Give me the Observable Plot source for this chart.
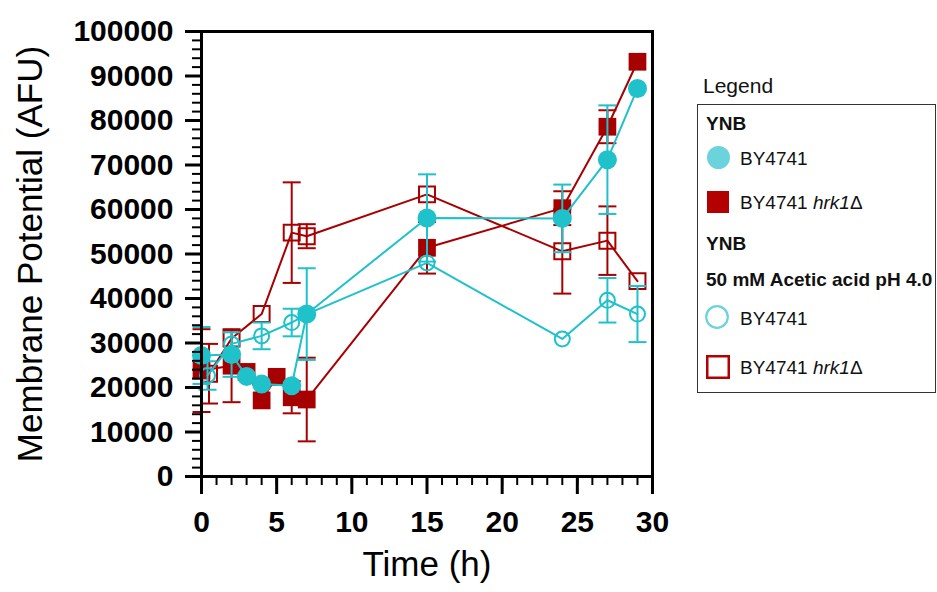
<!DOCTYPE html>
<html><head><meta charset="utf-8">
<script src="https://cdn.jsdelivr.net/npm/d3@7"></script>
<script src="https://cdn.jsdelivr.net/npm/@observablehq/plot@0.6"></script>
<style>
body{margin:0;background:#fff;font-family:"Liberation Sans",Arial,sans-serif;}
#wrap{position:relative;width:937px;height:592px;overflow:hidden;background:#fff;}
#wrap svg{position:absolute;left:0;top:0;}
.lg{position:absolute;white-space:nowrap;transform:translateY(-50%);color:#111;line-height:1;}
.lgbox{position:absolute;border:1.5px solid #333;box-sizing:border-box;}
.lgsym{position:absolute;overflow:visible;}
</style></head>
<body><div id="wrap"></div>
<script>
// ---------- data ----------
const xTicks = [0, 5, 10, 15, 20, 25, 30];
const xMinorTicks = d3.range(0, 31, 1);
const yTicks = [0, 10000, 20000, 30000, 40000, 50000, 60000, 70000, 80000, 90000, 100000];
const yMinorTicks = d3.range(0, 100001, 2000);

// YNB, BY4741 (filled circle)
const ynbWtHours = [0, 2, 3, 4, 6, 7, 15, 24, 27, 29];
const ynbWtMean  = [27200, 27400, 22500, 20800, 20400, 36500, 58100, 58000, 71200, 87200];
const ynbWtErr   = [6400, 5000, 0, 0, 0, 10300, 9800, 7600, 12200, 0];

// YNB, BY4741 hrk1Δ (filled square)
const ynbKoHours = [0, 2, 3, 4, 5, 6, 7, 15, 24, 27, 29];
const ynbKoMean  = [23800, 24900, 23500, 17100, 22400, 17800, 17300, 51400, 60300, 78600, 93200];
const ynbKoErr   = [9300, 8200, 0, 0, 0, 3600, 9400, 5800, 3800, 3700, 0];

// YNB + 50 mM acetic acid pH 4.0, BY4741 (open circle)
const aceWtHours = [0.4, 2, 4, 6, 7, 15, 24, 27, 29];
const aceWtMean  = [22700, 29800, 31600, 34600, 36500, 48000, 30900, 39600, 36500];
const aceWtErr   = [3200, 0, 3000, 3100, 0, 0, 0, 5000, 6300];

// YNB + 50 mM acetic acid pH 4.0, BY4741 hrk1Δ (open square)
const aceKoHours = [0.5, 2, 4, 6, 7, 15, 24, 27, 29];
const aceKoMean  = [23100, 31000, 36500, 54800, 54000, 63400, 50600, 53000, 43900];
const aceKoErr   = [6700, 0, 0, 11300, 2700, 0, 9500, 7700, 0];

const CYAN = "#1fc1ca", RED = "#a60000";
const LG_CYAN = "#6bd3db", LG_RED = "#b30000";

function rows(h, m, e) { return h.map((v, i) => ({hour: v, mean: m[i], err: e[i]})); }

const capSymbol = {draw(ctx, size) { const w = Math.sqrt(size / Math.PI); ctx.moveTo(-w, 0); ctx.lineTo(w, 0); }};

function seriesMarks(data, color, symbol, r, filled) {
  const we = data.filter(d => d.err > 0);
  return [
    Plot.line(data, {x: "hour", y: "mean", stroke: color, strokeWidth: 2}),
    Plot.ruleX(we, {x: "hour", y1: d => d.mean - d.err, y2: d => d.mean + d.err, stroke: color, strokeWidth: 2}),
    Plot.dot(we, {x: "hour", y: d => d.mean + d.err, symbol: capSymbol, r: 9, stroke: color, strokeWidth: 2, fill: "none"}),
    Plot.dot(we, {x: "hour", y: d => d.mean - d.err, symbol: capSymbol, r: 9, stroke: color, strokeWidth: 2, fill: "none"}),
    Plot.dot(data, {x: "hour", y: "mean", symbol, r,
      fill: filled ? color : "none", stroke: filled ? "none" : color, strokeWidth: filled ? 0 : 2})
  ];
}

const FONT = "Liberation Sans, Arial, sans-serif";

const plot = Plot.plot({
  width: 937, height: 592,
  marginLeft: 201, marginRight: 285, marginTop: 31, marginBottom: 116,
  style: {fontFamily: FONT, background: "transparent", color: "black", overflow: "visible"},
  x: {domain: [0, 30]},
  y: {domain: [0, 100000]},
  marks: [
    ...seriesMarks(rows(aceKoHours, aceKoMean, aceKoErr), RED, "square", 9, false),
    ...seriesMarks(rows(ynbKoHours, ynbKoMean, ynbKoErr), RED, "square", 10, true),
    ...seriesMarks(rows(aceWtHours, aceWtMean, aceWtErr), CYAN, "circle", 7.5, false),
    ...seriesMarks(rows(ynbWtHours, ynbWtMean, ynbWtErr), CYAN, "circle", 9.5, true),
    Plot.axisY(yMinorTicks, {tickSize: 9, tickFormat: () => "", strokeWidth: 2, color: "black", label: null}),
    Plot.axisY(yTicks, {tickSize: 16, tickPadding: 12, tickFormat: d => String(d), fontSize: 30, fontWeight: "bold", strokeWidth: 3, color: "black", label: null}),
    Plot.axisX(xMinorTicks, {tickSize: 9, tickFormat: () => "", strokeWidth: 2, color: "black", label: null}),
    Plot.axisX(xTicks, {tickSize: 18, tickPadding: 16, tickFormat: d => String(d), fontSize: 30, fontWeight: "bold", strokeWidth: 3, color: "black", label: null}),
    Plot.frame({stroke: "black", strokeWidth: 3}),
    Plot.text(["Membrane Potential (AFU)"], {text: d => d, frameAnchor: "left", textAnchor: "middle", dx: -171, rotate: -90, fontSize: 35, fill: "black"}),
    Plot.text(["Time (h)"], {text: d => d, frameAnchor: "bottom", textAnchor: "middle", dy: 99, fontSize: 35, fill: "black"})
  ]
});
const wrap = document.getElementById("wrap");
wrap.appendChild(plot);

// ---------- legend ----------
const legendTitle = "Legend";
const legendGroup1 = "YNB";
const legendGroup2a = "YNB";
const legendGroup2b = "50 mM Acetic acid pH 4.0";
const legendWt = "BY4741";
const legendKo = ["BY4741 ", "hrk1", "Δ"];

function label(html, left, cy, size, bold) {
  const d = document.createElement("div");
  d.className = "lg";
  d.style.left = left + "px"; d.style.top = cy + "px";
  d.style.fontSize = size + "px";
  if (bold) d.style.fontWeight = "bold";
  d.innerHTML = html;
  wrap.appendChild(d);
}
function sym(kind, cx, cy, size, color) {
  const s = d3.select(wrap).append("svg").attr("class", "lgsym")
    .attr("width", size + 4).attr("height", size + 4)
    .style("left", (cx - size / 2 - 2) + "px").style("top", (cy - size / 2 - 2) + "px");
  const c = size / 2 + 2;
  if (kind === "fc") s.append("circle").attr("cx", c).attr("cy", c).attr("r", size / 2).attr("fill", color);
  if (kind === "oc") s.append("circle").attr("cx", c).attr("cy", c).attr("r", size / 2 - 1.2).attr("fill", "none").attr("stroke", color).attr("stroke-width", 2.2);
  if (kind === "fs") s.append("rect").attr("x", 2).attr("y", 2).attr("width", size).attr("height", size).attr("fill", color);
  if (kind === "os") s.append("rect").attr("x", 3.25).attr("y", 3.25).attr("width", size - 2.5).attr("height", size - 2.5).attr("fill", "none").attr("stroke", color).attr("stroke-width", 2.5);
}
label(legendTitle, 703, 85, 21, false);
const box = document.createElement("div");
box.className = "lgbox";
Object.assign(box.style, {left: "697px", top: "104px", width: "239px", height: "289px"});
wrap.appendChild(box);
const koHtml = legendKo[0] + "<i>" + legendKo[1] + "</i>" + legendKo[2];
label(legendGroup1, 706, 123, 19, true);
sym("fc", 718, 157, 23, LG_CYAN);
label(legendWt, 740, 158, 19, false);
sym("fs", 718, 202, 22, LG_RED);
label(koHtml, 740, 202, 19, false);
label(legendGroup2a, 706, 243, 19, true);
label(legendGroup2b, 706, 279, 19, true);
sym("oc", 717, 317, 24, LG_CYAN);
label(legendWt, 740, 318, 19, false);
sym("os", 718, 367, 24, LG_RED);
label(koHtml, 740, 367, 19, false);
</script>
</body></html>
